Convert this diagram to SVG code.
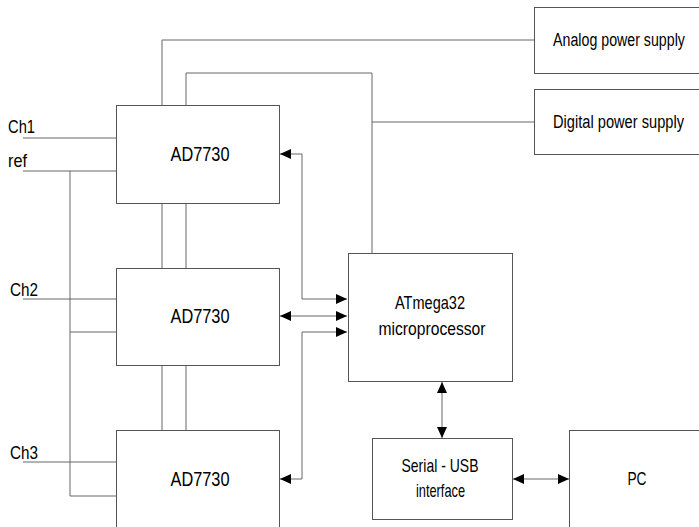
<svg xmlns="http://www.w3.org/2000/svg" width="699" height="527" viewBox="0 0 699 527">
<style>
.box{fill:#fff;stroke:#555;stroke-width:1}
.ln{fill:none;stroke:#666;stroke-width:1}
.t{font-family:"Liberation Sans",Arial,sans-serif;font-size:19px;fill:#000}
.big{font-size:20px}
.c{text-anchor:middle}
</style>
<defs>
<marker id="ah" markerWidth="11" markerHeight="10" refX="11" refY="5" orient="auto-start-reverse" markerUnits="userSpaceOnUse">
<path d="M0,0 L11,5 L0,10 z" fill="#000"/>
</marker>
</defs>
<rect width="699" height="527" fill="#fff"/>
<g id="connectors">
<polyline class="ln" points="162,105 162,40 534,40"/>
<polyline class="ln" points="186,105 186,73 372,73 372,253"/>
<line class="ln" x1="372" y1="122" x2="534" y2="122"/>
<line class="ln" x1="162" y1="203" x2="162" y2="268"/>
<line class="ln" x1="186" y1="203" x2="186" y2="268"/>
<line class="ln" x1="162" y1="365" x2="162" y2="430"/>
<line class="ln" x1="186" y1="365" x2="186" y2="430"/>
<line class="ln" x1="23" y1="138" x2="116" y2="138"/>
<line class="ln" x1="23" y1="171" x2="116" y2="171"/>
<line class="ln" x1="70" y1="171" x2="70" y2="496"/>
<line class="ln" x1="70" y1="332" x2="116" y2="332"/>
<line class="ln" x1="70" y1="496" x2="116" y2="496"/>
<line class="ln" x1="23" y1="299" x2="116" y2="299"/>
<line class="ln" x1="23" y1="462" x2="116" y2="462"/>
<polyline class="ln" points="347,299 302,299 302,154 280,154" marker-start="url(#ah)" marker-end="url(#ah)"/>
<line class="ln" x1="280" y1="316" x2="347" y2="316" marker-start="url(#ah)" marker-end="url(#ah)"/>
<polyline class="ln" points="347,332 302,332 302,479 280,479" marker-start="url(#ah)" marker-end="url(#ah)"/>
<line class="ln" x1="442" y1="382" x2="442" y2="438" marker-start="url(#ah)" marker-end="url(#ah)"/>
<line class="ln" x1="513" y1="479" x2="569" y2="479" marker-start="url(#ah)" marker-end="url(#ah)"/>
</g>
<g id="adc1">
<rect class="box" x="116.5" y="105.5" width="163" height="98"/>
<text class="t big c" x="200" y="161" textLength="59" lengthAdjust="spacingAndGlyphs">AD7730</text>
</g>
<g id="adc2">
<rect class="box" x="116.5" y="268.5" width="163" height="97"/>
<text class="t big c" x="200" y="323" textLength="59" lengthAdjust="spacingAndGlyphs">AD7730</text>
</g>
<g id="adc3">
<rect class="box" x="116.5" y="430.5" width="163" height="110"/>
<text class="t big c" x="200" y="486" textLength="59" lengthAdjust="spacingAndGlyphs">AD7730</text>
</g>
<g id="analog">
<rect class="box" x="534.5" y="7.5" width="180" height="66"/>
<text class="t c" transform="translate(619,46) scale(0.748,1)">Analog power supply</text>
</g>
<g id="digital">
<rect class="box" x="534.5" y="89.5" width="180" height="65"/>
<text class="t c" transform="translate(618.5,128) scale(0.771,1)">Digital power supply</text>
</g>
<g id="mcu">
<rect class="box" x="348.5" y="253.5" width="164" height="128"/>
<text class="t c" x="430" y="309" textLength="70" lengthAdjust="spacingAndGlyphs">ATmega32</text>
<text class="t c" x="432" y="335" textLength="107" lengthAdjust="spacingAndGlyphs">microprocessor</text>
</g>
<g id="serial">
<rect class="box" x="372.5" y="438.5" width="140" height="81"/>
<text class="t c" x="440" y="472" textLength="77" lengthAdjust="spacingAndGlyphs">Serial - USB</text>
<text class="t c" x="440.5" y="497" textLength="49" lengthAdjust="spacingAndGlyphs">interface</text>
</g>
<g id="pc">
<rect class="box" x="569.5" y="430.5" width="150" height="110"/>
<text class="t c" x="637" y="485" textLength="19" lengthAdjust="spacingAndGlyphs">PC</text>
</g>
<g id="labels">
<text class="t" x="8" y="133" textLength="27" lengthAdjust="spacingAndGlyphs">Ch1</text>
<text class="t" x="8" y="167" textLength="19" lengthAdjust="spacingAndGlyphs">ref</text>
<text class="t" x="10" y="296" textLength="28" lengthAdjust="spacingAndGlyphs">Ch2</text>
<text class="t" x="10" y="459" textLength="28" lengthAdjust="spacingAndGlyphs">Ch3</text>
</g>
</svg>
